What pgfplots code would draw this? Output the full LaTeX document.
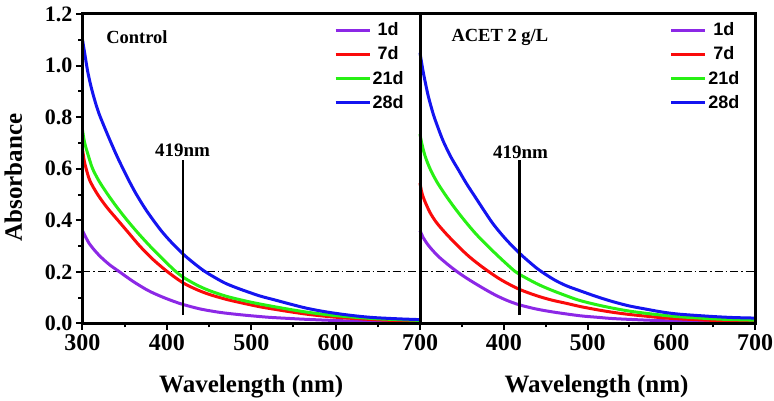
\documentclass[border=0pt]{standalone}
\usepackage{pgfplots}
\pgfplotsset{compat=1.18}
\usepackage{fontspec}
\setmainfont{Liberation Serif}
\setsansfont{Liberation Sans}

\definecolor{cpurple}{RGB}{140,40,230}
\definecolor{cred}{RGB}{250,10,10}
\definecolor{cgreen}{RGB}{40,240,20}
\definecolor{cblue}{RGB}{20,20,240}

\pgfplotsset{
  panel/.style={
    scale only axis,
    clip=false,
    height=309.5pt,
    xmin=300, xmax=700, ymin=0, ymax=1.2,
    axis line style={line width=3pt},
    tick style={black, line width=2pt},
    major tick length=6.5pt, minor tick length=4pt,
    tick align=outside,
    xtick pos=bottom, ytick pos=left,
    minor x tick num=1,
    /pgf/number format/assume math mode=true,
    xticklabel style={font=\fontsize{24}{24}\selectfont\bfseries, yshift=-1pt},
    yticklabel style={font=\fontsize{22}{22}\selectfont\bfseries,
      /pgf/number format/.cd, fixed, fixed zerofill, precision=1},
    xlabel={Wavelength (nm)},
    xlabel style={font=\fontsize{25}{25}\selectfont\bfseries, anchor=center},
    legend style={draw=none, fill=none, anchor=north west,
      font=\fontsize{18}{18}\selectfont\sffamily\bfseries,
      row sep=6.6pt, inner sep=0pt,
      nodes={inner sep=1.5pt}},
    legend image code/.code={\draw[#1, line width=3pt, sharp plot] (0pt,0pt) -- (34pt,0pt);},
    every axis plot/.append style={line width=3pt, smooth, tension=0.5},
  },
  refline/.style={black, line width=0.9pt, sharp plot, dash pattern=on 8pt off 3pt on 1.5pt off 3pt, forget plot},
  marker419/.style={black, line width=2.4pt, sharp plot, forget plot},
}

\begin{document}
\begin{tikzpicture}
\useasboundingbox (0,0) rectangle (774pt,401pt);

% ---------------- Control ----------------
\begin{axis}[panel,
  at={(82.5pt,77.5pt)}, anchor=south west, width=337.5pt,
  xtick={300,400,500,600,700},
  ytick={0,0.2,0.4,0.6,0.8,1.0,1.2}, minor y tick num=1,
  ylabel={Absorbance},
  ylabel style={font=\fontsize{25}{25}\selectfont\bfseries, at={(axis description cs:-0.205,0.472)}, anchor=center},
  xlabel style={at={(axis description cs:0.5,-0.205)}},
  legend style={at={(axis description cs:0.745,0.977)}},
]
\addplot[refline] coordinates {(300,0.2) (700,0.2)};
\addplot[cpurple] coordinates {
(300,0.36) (303,0.34) (308,0.31) (314,0.285) (321,0.26) (332,0.228) (344,0.20)
(360,0.163) (376,0.131) (386,0.115) (396,0.101) (408,0.086) (420,0.073) (440,0.056)
(463,0.043) (487,0.034) (510,0.027) (526,0.023) (566,0.016) (605,0.011) (645,0.008) (700,0.005)};
\addplot[cred] coordinates {
(300,0.675) (302,0.632) (304.5,0.598) (309,0.552) (318,0.50) (329,0.45) (342,0.40)
(355,0.35) (368,0.30) (383,0.25) (401,0.20) (419,0.158) (435,0.132) (450,0.113)
(470,0.094) (487,0.081) (510,0.065) (526,0.056) (545,0.046) (566,0.036)
(585,0.029) (605,0.023) (645,0.015) (675,0.011) (700,0.008)};
\addplot[cgreen] coordinates {
(300,0.75) (302.6,0.70) (307,0.65) (312,0.60) (320,0.55) (330,0.50) (341,0.45)
(353,0.40) (366,0.35) (380,0.30) (395,0.25) (411,0.20) (419,0.18) (435,0.150)
(450,0.128) (470,0.106) (487,0.092) (505,0.079) (526,0.066) (545,0.055)
(566,0.044) (585,0.036) (605,0.029) (645,0.019) (675,0.015) (700,0.012)};
\addplot[cblue] coordinates {
(300,1.10) (303,1.04) (306,0.98) (310,0.92) (315,0.86) (320,0.81) (330,0.73)
(340,0.655) (348,0.60) (356,0.548) (364,0.50) (376,0.437) (392,0.365) (405,0.316)
(420,0.267) (432,0.234) (444,0.204) (457,0.178) (470,0.155) (487,0.133) (510,0.107)
(526,0.093) (550,0.072) (566,0.059) (585,0.047) (605,0.037) (625,0.029) (645,0.023)
(675,0.018) (700,0.015)};
\addplot[marker419] coordinates {(419,0.032) (419,0.632)};
\legend{1d,7d,21d,28d}
\draw[black, line width=3pt, line cap=rect] (rel axis cs:0,0) rectangle (rel axis cs:1,1);
\node[font=\fontsize{18.5}{18.5}\selectfont\bfseries, anchor=west] at (axis cs:324,1.11) {Control};
\node[font=\fontsize{19}{19}\selectfont\bfseries, anchor=center] at (axis cs:418.5,0.672) {419nm};
\end{axis}

% ---------------- ACET 2 g/L ----------------
\begin{axis}[panel,
  at={(420pt,77.5pt)}, anchor=south west, width=335pt,
  xtick={300,400,500,600,700}, xticklabels={,400,500,600,700},
  ytick=\empty,
  xlabel style={at={(axis description cs:0.527,-0.205)}},
  legend style={at={(axis description cs:0.745,0.977)}},
]
\addplot[refline] coordinates {(300,0.2) (700,0.2)};
\addplot[cpurple] coordinates {
(300,0.36) (304,0.332) (308,0.312) (312,0.295) (318,0.273) (324,0.254) (335,0.224)
(346,0.197) (357,0.173) (368,0.151) (380,0.128) (392,0.107) (405,0.088)
(419,0.072) (439,0.056) (460,0.044) (491,0.030) (512,0.024) (531,0.019)
(571,0.013) (610,0.009) (650,0.006) (700,0.004)};
\addplot[cred] coordinates {
(300,0.545) (302,0.51) (305,0.48) (312,0.43) (320,0.39) (332,0.345) (344,0.305)
(355,0.27) (364,0.245) (374,0.22) (383,0.199) (393,0.177) (403,0.158) (419,0.132)
(439,0.108) (457,0.091) (475,0.078) (491,0.066) (512,0.053) (531,0.043)
(550,0.035) (571,0.028) (590,0.022) (610,0.018) (650,0.012) (675,0.010) (700,0.009)};
\addplot[cgreen] coordinates {
(300,0.735) (302,0.70) (306,0.65) (312,0.60) (320,0.55) (330,0.50) (341,0.45)
(353,0.40) (366,0.35) (380,0.303) (397,0.25) (413,0.203) (419,0.19) (439,0.155)
(455,0.132) (475,0.107) (491,0.089) (512,0.072) (531,0.059) (550,0.048)
(571,0.039) (590,0.032) (610,0.026) (650,0.018) (675,0.015) (700,0.013)};
\addplot[cblue] coordinates {
(300,1.05) (303,0.99) (306,0.94) (310,0.88) (316,0.81) (322,0.755) (328,0.705)
(337,0.645) (346,0.595) (355,0.545) (364,0.50) (386,0.392) (403,0.325) (419,0.272)
(430,0.240) (442,0.208) (460,0.170) (475,0.146) (491,0.127) (512,0.103)
(531,0.084) (550,0.068) (571,0.055) (590,0.044) (610,0.036) (650,0.027)
(675,0.023) (700,0.021)};
\addplot[marker419] coordinates {(419,0.032) (419,0.632)};
\legend{1d,7d,21d,28d}
\draw[black, line width=3pt, line cap=rect] (rel axis cs:0,0) rectangle (rel axis cs:1,1);
\node[font=\fontsize{18.5}{18.5}\selectfont\bfseries, anchor=west] at (axis cs:333.4,1.11) {ACET 2 g/L};
\node[font=\fontsize{19}{19}\selectfont\bfseries, anchor=center] at (axis cs:420,0.665) {419nm};
\end{axis}
\end{tikzpicture}
\end{document}
